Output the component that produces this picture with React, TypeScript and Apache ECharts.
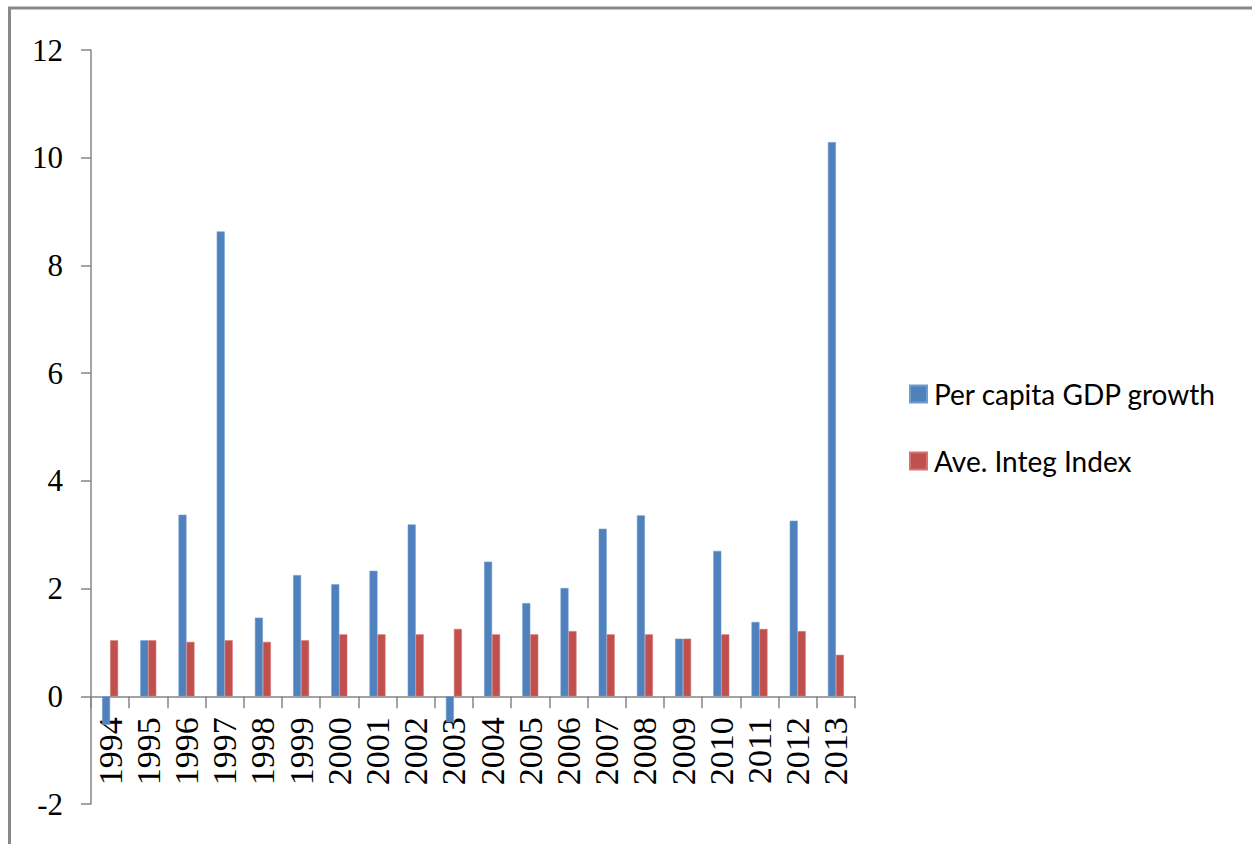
import React, { useEffect, useRef } from "react";
import * as echarts from "echarts";

const years = [
  "1994", "1995", "1996", "1997", "1998", "1999", "2000", "2001", "2002", "2003",
  "2004", "2005", "2006", "2007", "2008", "2009", "2010", "2011", "2012", "2013",
];

const gdpGrowth = [
  -0.53, 1.04, 3.37, 8.63, 1.46, 2.25, 2.08, 2.33, 3.19, -0.48,
  2.5, 1.73, 2.01, 3.11, 3.36, 1.07, 2.7, 1.38, 3.26, 10.29,
];

const integIndex = [
  1.04, 1.04, 1.01, 1.04, 1.01, 1.04, 1.15, 1.15, 1.15, 1.25,
  1.15, 1.15, 1.21, 1.15, 1.15, 1.07, 1.15, 1.25, 1.21, 0.77,
];

const seriesNames = ["Per capita GDP growth", "Ave. Integ Index"];

const W = 1252;
const H = 844;

// plot box, in page pixels
const PLOT_LEFT = 91;
const PLOT_TOP = 50;
const PLOT_RIGHT = 855;
const PLOT_BOTTOM = 804;
const Y_MIN = -2;
const Y_MAX = 12;

export default function App() {
  const ref = useRef<HTMLDivElement>(null);

  useEffect(() => {
    if (!ref.current) return;
    const chart = echarts.init(ref.current, undefined, { renderer: "svg" });
    const axisGray = "#868686";
    const serif = "'Liberation Serif', 'Times New Roman', serif";

    // distance from the plot's bottom edge up to the zero line, used to pin the year labels under it
    const zeroOffset = ((0 - Y_MIN) / (Y_MAX - Y_MIN)) * (PLOT_BOTTOM - PLOT_TOP);

    chart.setOption({
      animation: false,
      backgroundColor: "#ffffff",
      grid: {
        left: PLOT_LEFT,
        top: PLOT_TOP,
        right: W - PLOT_RIGHT,
        bottom: H - PLOT_BOTTOM,
        containLabel: false,
        outerBoundsMode: "none",
      },
      legend: {
        orient: "vertical",
        left: 904,
        top: 375,
        icon: "rect",
        itemWidth: 17,
        itemHeight: 17,
        itemGap: 39,
        data: seriesNames,
        textStyle: {
          fontFamily: "Lato, 'Open Sans', sans-serif",
          fontSize: 28,
          color: "#000000",
          padding: [0, 0, 0, 2],
        },
      },
      xAxis: [
        {
          type: "category",
          data: years,
          axisLine: { show: true, onZero: true, lineStyle: { color: axisGray, width: 1.5 } },
          axisTick: { show: true, length: 12, alignWithLabel: false, lineStyle: { color: axisGray, width: 1.5 } },
          axisLabel: { show: false },
          splitLine: { show: false },
        },
        {
          type: "category",
          data: years,
          position: "bottom",
          offset: -zeroOffset,
          axisLine: { show: false, onZero: false },
          axisTick: { show: false },
          axisLabel: {
            rotate: 90,
            margin: 21,
            interval: 0,
            fontFamily: serif,
            fontSize: 34,
            color: "#000000",
          },
          splitLine: { show: false },
        },
      ],
      yAxis: {
        type: "value",
        min: Y_MIN,
        max: Y_MAX,
        interval: 2,
        axisLine: { show: true, lineStyle: { color: axisGray, width: 1.5 } },
        axisTick: { show: true, length: 10, inside: false, lineStyle: { color: axisGray, width: 1.5 } },
        axisLabel: {
          margin: 28,
          fontFamily: serif,
          fontSize: 31,
          color: "#000000",
        },
        splitLine: { show: false },
      },
      series: [
        {
          name: seriesNames[0],
          type: "bar",
          xAxisIndex: 0,
          data: gdpGrowth,
          barWidth: 8,
          barGap: "0%",
          itemStyle: { color: "#4F81BD", borderColor: "#6f9bd0", borderWidth: 0.6 },
        },
        {
          name: seriesNames[1],
          type: "bar",
          xAxisIndex: 0,
          data: integIndex,
          barWidth: 8,
          barGap: "0%",
          itemStyle: { color: "#C0504D", borderColor: "#d47370", borderWidth: 0.6 },
        },
      ],
      graphic: [
        {
          type: "rect",
          silent: true,
          shape: { x: 9.5, y: 8, width: W + 20, height: H + 20 },
          style: { fill: "none", stroke: "#888888", lineWidth: 3 },
        },
      ],
    });

    return () => chart.dispose();
  }, []);

  return (
    <div
      ref={ref}
      style={{ position: "absolute", left: 0, top: 0, width: W, height: H }}
    />
  );
}
